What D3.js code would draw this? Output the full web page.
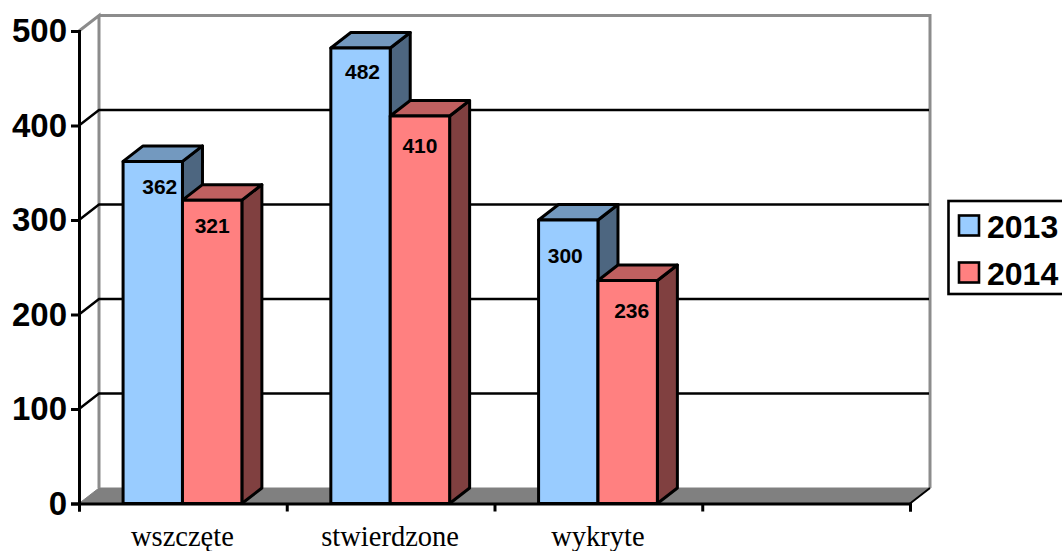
<!DOCTYPE html>
<html><head><meta charset="utf-8">
<script src="https://cdn.jsdelivr.net/npm/d3@7"></script>
<style>html,body{margin:0;padding:0;background:#fff;overflow:hidden}svg{display:block}</style>
</head><body><div id="c"></div>
<script>
const categories = ["wszczęte", "stwierdzone", "wykryte", ""];
const seriesNames = ["2013", "2014"];
const values2013 = [362, 482, 300, null];
const values2014 = [321, 410, 236, null];
const yTicks = [0, 100, 200, 300, 400, 500];

const W = 1062, H = 551;
const plot = {left: 79, right: 910, y0: 503.5, y500: 31};
const depth = {dx: 20, dy: -15.5};
const colors = {
  "2013": {front: "#99CCFF", top: "#7399BF", side: "#4D6680"},
  "2014": {front: "#FF8080", top: "#BF6060", side: "#804040"}
};
const labelShift = {
  "2013": [[7, 26], [2, 24], [-3, 36]],
  "2014": [[0, 26], [0, 30], [4, 31]]
};
const sans = "'Liberation Sans', Arial, sans-serif";
const serif = "'Liberation Serif', 'Times New Roman', serif";

const svg = d3.select("#c").append("svg").attr("width", W).attr("height", H);
const y = d3.scaleLinear().domain([0, 500]).range([plot.y0, plot.y500]);
const x0 = d3.scaleBand().domain(d3.range(categories.length)).range([plot.left, plot.right]);
const barW = 59.4;
const x1 = d3.scaleBand().domain(seriesNames).range([x0.bandwidth() / 2 - barW - 0.4, x0.bandwidth() / 2 + barW - 0.4]);
const path = d3.line();
const {dx, dy} = depth;

// floor
svg.append("path").attr("fill", "#808080").attr("stroke", "#808080").attr("stroke-width", 1)
  .attr("d", path([[plot.left, y(0)], [plot.left + dx, y(0) + dy], [plot.right + dx, y(0) + dy], [plot.right, y(0)]]) + "Z");

// walls
svg.append("path").attr("fill", "none").attr("stroke", "#8c8c8c").attr("stroke-width", 3)
  .attr("d", path([[plot.left, y(500)], [plot.left + dx, y(500) + dy], [plot.left + dx, y(0) + dy]]));
svg.append("path").attr("fill", "none").attr("stroke", "#8c8c8c").attr("stroke-width", 3)
  .attr("d", path([[plot.left + dx, y(500) + dy], [plot.right + dx, y(500) + dy], [plot.right + dx, y(0) + dy]]));
svg.append("line").attr("x1", plot.right).attr("y1", y(0)).attr("x2", plot.right + dx).attr("y2", y(0) + dy)
  .attr("stroke", "#000").attr("stroke-width", 2);

// gridlines
yTicks.filter(t => t > 0 && t < 500).forEach(t => {
  svg.append("path").attr("fill", "none").attr("stroke", "#000").attr("stroke-width", 2.4)
    .attr("d", path([[plot.left, y(t)], [plot.left + dx, y(t) + dy], [plot.right + dx - 1, y(t) + dy]]));
});

// axes
const gy = svg.append("g").attr("transform", `translate(${plot.left},0)`)
  .call(d3.axisLeft(y).tickValues(yTicks).tickSize(8).tickPadding(4).tickFormat(d3.format("d")));
gy.selectAll("path,line").attr("stroke", "#000").attr("stroke-width", 3);
gy.selectAll("text").attr("font-family", sans).attr("font-weight", 700).attr("font-size", 33).attr("fill", "#000");

const xEdge = d3.scaleLinear().domain([0, categories.length]).range([plot.left, plot.right]);
const gx = svg.append("g").attr("transform", `translate(0,${y(0)})`)
  .call(d3.axisBottom(xEdge).tickValues(d3.range(categories.length + 1)).tickSize(8).tickSizeOuter(8).tickFormat(""));
gx.selectAll("path,line").attr("stroke", "#000").attr("stroke-width", 3);

svg.append("g").selectAll("text").data(categories).join("text")
  .attr("x", (d, i) => x0(i) + x0.bandwidth() / 2 - 0.5)
  .attr("y", 546).attr("text-anchor", "middle")
  .attr("font-family", serif).attr("font-size", 28.5).attr("fill", "#000").text(d => d);

// bars
const series = [{name: "2013", vals: values2013}, {name: "2014", vals: values2014}];
categories.forEach((c, i) => {
  series.forEach(s => {
    const v = s.vals[i];
    if (v == null) return;
    const col = colors[s.name];
    const xl = x0(i) + x1(s.name), xr = xl + x1.bandwidth();
    const g = svg.append("g").attr("stroke", "#000").attr("stroke-width", 3).attr("stroke-linejoin", "round");
    g.append("path").attr("fill", col.side)
      .attr("d", path([[xr, y(v)], [xr + dx, y(v) + dy], [xr + dx, y(0) + dy], [xr, y(0)]]) + "Z");
    g.append("path").attr("fill", col.top)
      .attr("d", path([[xl, y(v)], [xl + dx, y(v) + dy], [xr + dx, y(v) + dy], [xr, y(v)]]) + "Z");
    g.append("path").attr("fill", col.front)
      .attr("d", path([[xl, y(v)], [xr, y(v)], [xr, y(0)], [xl, y(0)]]) + "Z");
  });
});
// labels
categories.forEach((c, i) => {
  series.forEach(s => {
    const v = s.vals[i];
    if (v == null) return;
    const sh = labelShift[s.name][i];
    svg.append("text")
      .attr("x", x0(i) + x1(s.name) + x1.bandwidth() / 2 + sh[0])
      .attr("y", y(v) + sh[1] + 7)
      .attr("text-anchor", "middle")
      .attr("font-family", sans).attr("font-weight", 700).attr("font-size", 21).attr("fill", "#000")
      .text(v);
  });
});

// legend
svg.append("rect").attr("x", 948.5).attr("y", 201).attr("width", 130).attr("height", 93)
  .attr("fill", "#fff").attr("stroke", "#000").attr("stroke-width", 2.6);
const legendY = d3.scalePoint().domain(seriesNames).range([225.5, 272.5]);
seriesNames.forEach(n => {
  svg.append("rect").attr("x", 959).attr("y", legendY(n) - 10).attr("width", 20).attr("height", 20)
    .attr("fill", colors[n].front).attr("stroke", "#000").attr("stroke-width", 2.6);
  svg.append("text").attr("x", 987).attr("y", legendY(n) + 12)
    .attr("font-family", sans).attr("font-weight", 700).attr("font-size", 32).attr("fill", "#000").text(n);
});
</script></body></html>
